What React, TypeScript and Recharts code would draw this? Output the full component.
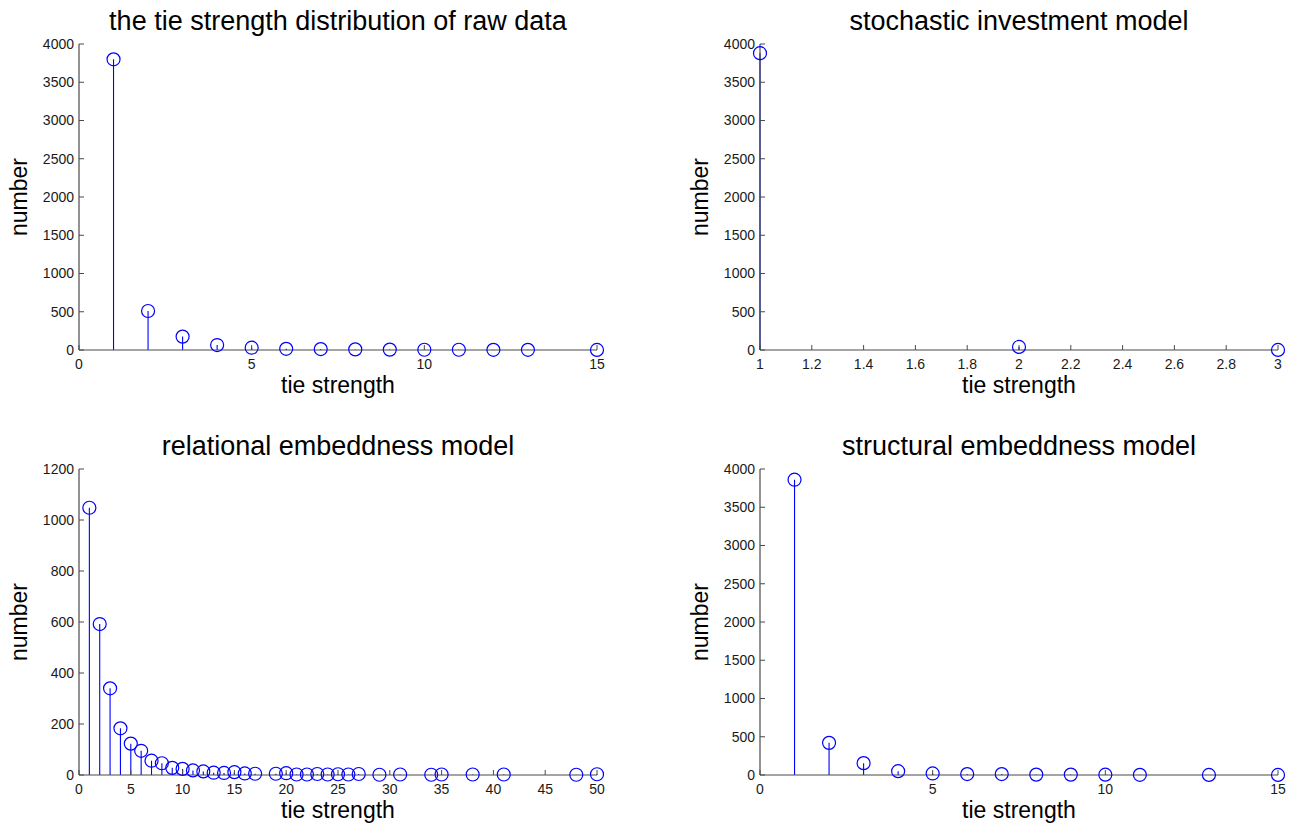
import { ComposedChart, Scatter, XAxis, YAxis, ReferenceLine } from "recharts";

// tie strength -> number of ties
const rawStrength = [1, 2, 3, 4, 5, 6, 7, 8, 9, 10, 11, 12, 13, 15];
const rawCount = [3800, 510, 175, 65, 30, 15, 12, 8, 5, 3, 3, 2, 2, 1];

const stochStrength = [1, 2, 3];
const stochCount = [3880, 40, 1];

const relStrength = [
  1, 2, 3, 4, 5, 6, 7, 8, 9, 10, 11, 12, 13, 14, 15, 16, 17,
  19, 20, 21, 22, 23, 24, 25, 26, 27, 29, 31, 34, 35, 38, 41, 48, 50,
];
const relCount = [
  1048, 592, 340, 183, 123, 95, 56, 46, 28, 24, 18, 14, 9, 8, 11, 6, 5,
  5, 7, 2, 2, 4, 2, 3, 2, 4, 1, 2, 1, 2, 2, 2, 1, 3,
];

const structStrength = [1, 2, 3, 4, 5, 6, 7, 8, 9, 10, 11, 13, 15];
const structCount = [3860, 420, 155, 50, 20, 12, 12, 5, 5, 4, 2, 1, 1];

const ticks0to15 = [0, 5, 10, 15];
const ticks1to3 = [1, 1.2, 1.4, 1.6, 1.8, 2, 2.2, 2.4, 2.6, 2.8, 3];
const ticks0to50 = [0, 5, 10, 15, 20, 25, 30, 35, 40, 45, 50];
const ticks0to4000 = [0, 500, 1000, 1500, 2000, 2500, 3000, 3500, 4000];
const ticks0to1200 = [0, 200, 400, 600, 800, 1000, 1200];

const FONT = "'Liberation Sans', Arial, Helvetica, sans-serif";
const BLUE = "#0000ff";
const AXIS = "#4a4a4a";
const TEXT = "#1a1a1a";

const PLOT_W = 518;
const PLOT_H = 306;
const PLOT_TOP = 44;
const Y_AXIS_W = 60;
const X_AXIS_H = 40;

interface PanelProps {
  left: number;
  top: number;
  plotLeft: number;
  title: string;
  xs: number[];
  ys: number[];
  xDomain: [number, number];
  xTicks: number[];
  yDomain: [number, number];
  yTicks: number[];
}

const Hollow = (props: any) => {
  const { cx, cy } = props;
  if (cx == null || cy == null) return null;
  return <circle cx={cx} cy={cy} r={6.5} fill="none" stroke={BLUE} strokeWidth={1.2} />;
};

function StemPanel({ left, top, plotLeft, title, xs, ys, xDomain, xTicks, yDomain, yTicks }: PanelProps) {
  const data = xs.map((x, i) => ({ x, y: ys[i] }));
  const width = plotLeft + PLOT_W + 30;
  const height = PLOT_TOP + PLOT_H + X_AXIS_H + 20;
  const midX = plotLeft + PLOT_W / 2;
  const midY = PLOT_TOP + PLOT_H / 2;
  const tickStyle = { fontSize: 14, fill: TEXT, fontFamily: FONT };

  return (
    <div style={{ position: "absolute", left, top, width, height }}>
      <ComposedChart
        width={width}
        height={height}
        data={data}
        margin={{ top: PLOT_TOP, right: 30, left: plotLeft - Y_AXIS_W, bottom: 20 }}
      >
        <XAxis
          dataKey="x"
          type="number"
          domain={xDomain}
          ticks={xTicks}
          interval={0}
          height={X_AXIS_H}
          tick={tickStyle}
          tickSize={-5}
          tickMargin={14}
          tickFormatter={(v: number) => String(Number(v.toFixed(1)))}
          axisLine={{ stroke: AXIS, strokeWidth: 1.2 }}
          tickLine={{ stroke: AXIS }}
        />
        <YAxis
          type="number"
          domain={yDomain}
          ticks={yTicks}
          interval={0}
          width={Y_AXIS_W}
          tick={tickStyle}
          tickSize={-5}
          tickMargin={10}
          axisLine={{ stroke: AXIS, strokeWidth: 1.2 }}
          tickLine={{ stroke: AXIS }}
        />
        {data.map((d) => (
          <ReferenceLine
            key={d.x}
            segment={[{ x: d.x, y: 0 }, { x: d.x, y: d.y }]}
            stroke={BLUE}
            strokeWidth={1.1}
            ifOverflow="visible"
          />
        ))}
        <Scatter dataKey="y" shape={Hollow} isAnimationActive={false} />
      </ComposedChart>
      <div
        style={{
          position: "absolute",
          left: midX,
          top: PLOT_TOP - 36,
          transform: "translateX(-50%)",
          fontSize: 27,
          lineHeight: "27px",
          whiteSpace: "nowrap",
          color: "#000",
        }}
      >
        {title}
      </div>
      <div
        style={{
          position: "absolute",
          left: midX,
          top: PLOT_TOP + PLOT_H + 24,
          transform: "translateX(-50%)",
          fontSize: 23,
          lineHeight: "23px",
          whiteSpace: "nowrap",
          color: "#000",
        }}
      >
        tie strength
      </div>
      <div
        style={{
          position: "absolute",
          left: plotLeft - 60,
          top: midY,
          transform: "translate(-50%, -50%) rotate(-90deg)",
          fontSize: 23,
          lineHeight: "23px",
          whiteSpace: "nowrap",
          color: "#000",
        }}
      >
        number
      </div>
    </div>
  );
}

export default function App() {
  return (
    <div
      style={{
        position: "absolute",
        left: 0,
        top: 0,
        width: 1295,
        height: 828,
        background: "#fff",
        overflow: "hidden",
        fontFamily: FONT,
      }}
    >
      <StemPanel
        left={0}
        top={0}
        plotLeft={79}
        title="the tie strength distribution of raw data"
        xs={rawStrength}
        ys={rawCount}
        xDomain={[0, 15]}
        xTicks={ticks0to15}
        yDomain={[0, 4000]}
        yTicks={ticks0to4000}
      />
      <StemPanel
        left={640}
        top={0}
        plotLeft={120}
        title="stochastic investment model"
        xs={stochStrength}
        ys={stochCount}
        xDomain={[1, 3]}
        xTicks={ticks1to3}
        yDomain={[0, 4000]}
        yTicks={ticks0to4000}
      />
      <StemPanel
        left={0}
        top={425}
        plotLeft={79}
        title="relational embeddness model"
        xs={relStrength}
        ys={relCount}
        xDomain={[0, 50]}
        xTicks={ticks0to50}
        yDomain={[0, 1200]}
        yTicks={ticks0to1200}
      />
      <StemPanel
        left={640}
        top={425}
        plotLeft={120}
        title="structural embeddness model"
        xs={structStrength}
        ys={structCount}
        xDomain={[0, 15]}
        xTicks={ticks0to15}
        yDomain={[0, 4000]}
        yTicks={ticks0to4000}
      />
    </div>
  );
}
